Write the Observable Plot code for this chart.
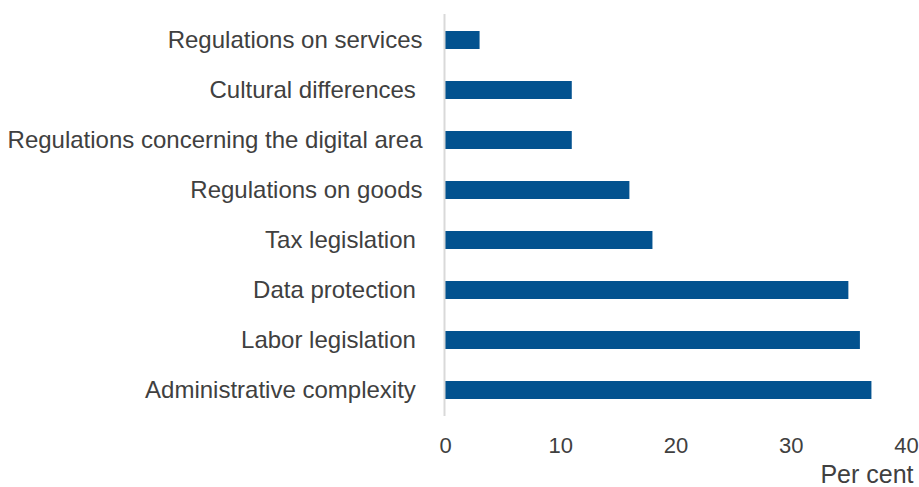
<!DOCTYPE html>
<html>
<head>
<meta charset="utf-8">
<script src="https://cdn.jsdelivr.net/npm/d3@7"></script>
<script src="https://cdn.jsdelivr.net/npm/@observablehq/plot@0.6"></script>
<style>
  html, body { margin: 0; padding: 0; background: #fff; }
  #chart svg { display: block; }
</style>
</head>
<body>
<div id="chart"></div>
<script>
// Obstacles reported, share of respondents (per cent)
const categories = [
  "Regulations on services",
  "Cultural differences\u00a0",
  "Regulations concerning the digital area",
  "Regulations on goods",
  "Tax legislation\u00a0",
  "Data protection\u00a0",
  "Labor legislation\u00a0",
  "Administrative complexity\u00a0"
];
const values = [3, 11, 11, 16, 18, 35, 36, 37];
const xTicks = [0, 10, 20, 30, 40];
const xLabel = "Per cent";

const data = categories.map((c, i) => ({category: c, value: values[i]}));

const font = "Liberation Sans, Arial, sans-serif";
const textColor = "#404040";

const chart = Plot.plot({
  width: 919,
  height: 487,
  marginLeft: 445,
  marginRight: 13,
  marginTop: 14,
  marginBottom: 71,
  style: {fontFamily: font, fontSize: "22px", color: textColor, background: "#fff"},
  x: {domain: [0, 40], ticks: xTicks},
  y: {domain: categories, paddingInner: 0.64, paddingOuter: 0.32},
  marks: [
    Plot.barX(data, {x: "value", y: "category", fill: "#03528f"}),
    Plot.ruleX([0], {stroke: "#d9d9d9", strokeWidth: 2, dx: -1}),
    Plot.axisY({tickSize: 0, tickPadding: 23, label: null, fontSize: 24, fill: textColor}),
    Plot.axisX({ticks: xTicks, tickSize: 0, tickPadding: 21, label: null, fontSize: 22, fill: textColor}),
    Plot.text([xLabel], {frameAnchor: "bottom-right", textAnchor: "end", dx: 7, dy: 66, fontSize: 25, fill: textColor})
  ]
});

document.getElementById("chart").appendChild(chart);
</script>
</body>
</html>
